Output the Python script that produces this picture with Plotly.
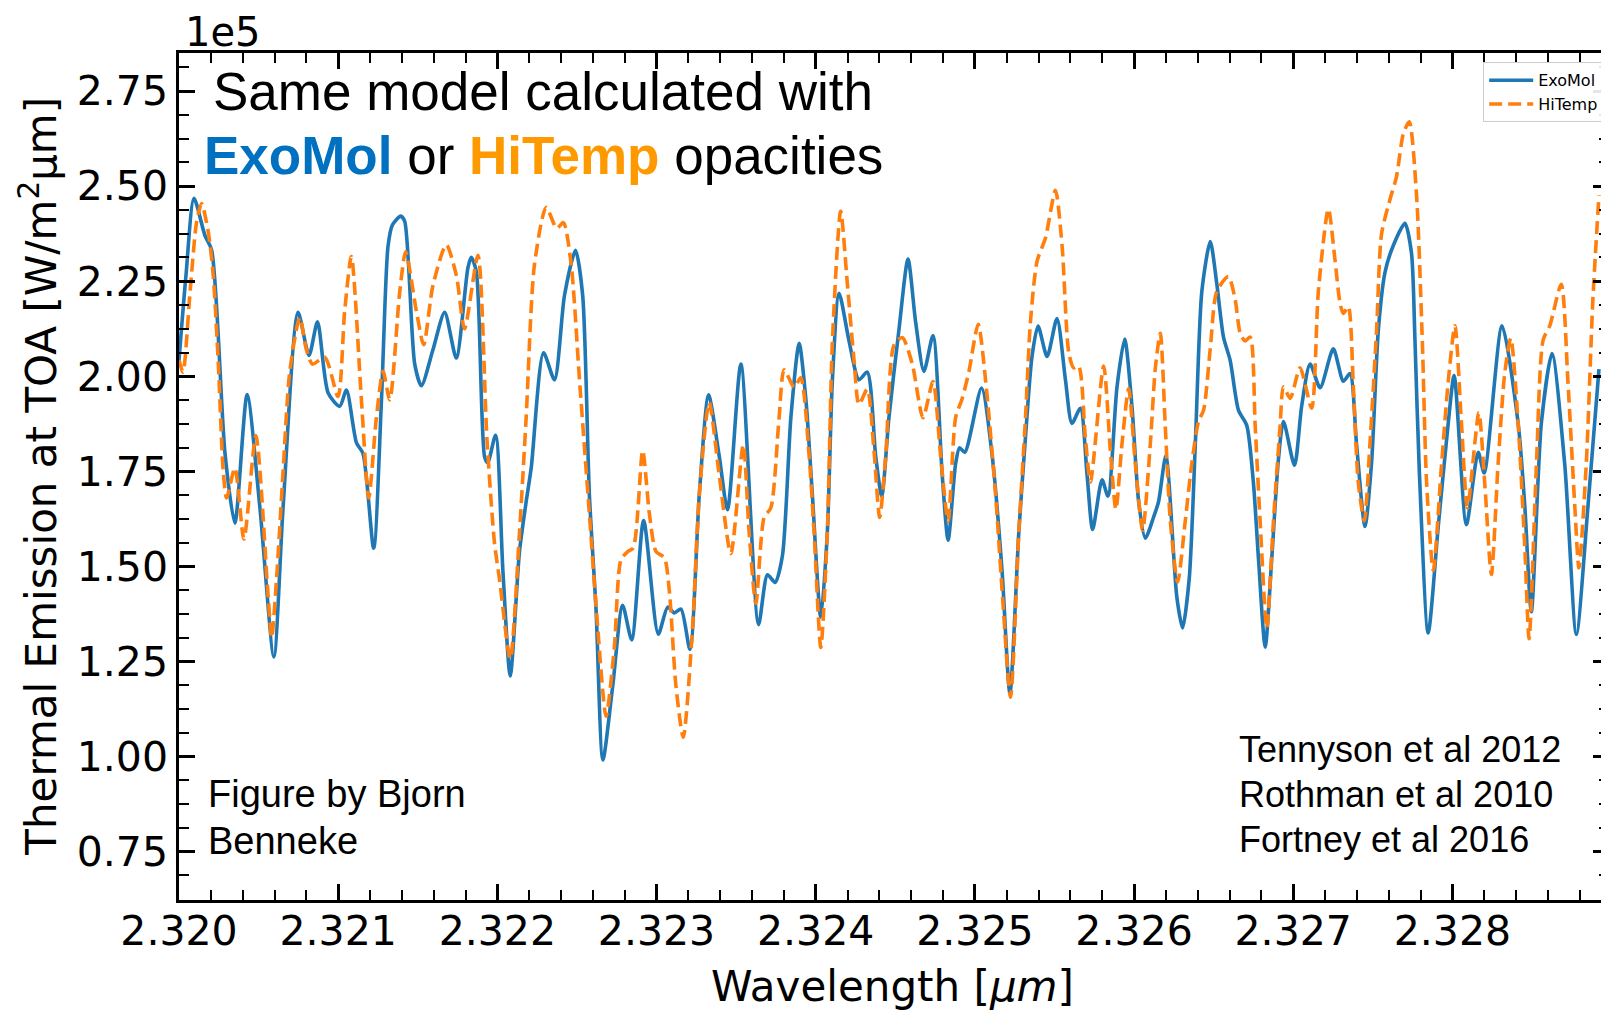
import plotly.graph_objects as go

# Wavelength [um] and thermal emission (units of 1e5 W/m^2/um)
wl_exomol = [2.32000, 2.320044, 2.320094, 2.320163, 2.320205, 2.320289, 2.320351, 2.320428, 2.320508, 2.320596,
             2.320654, 2.320748, 2.320817, 2.320870, 2.320937, 2.321010, 2.321052, 2.321115, 2.321156, 2.321223,
             2.321272, 2.321313, 2.321341, 2.321393, 2.321418, 2.321481, 2.321523, 2.321595, 2.321669, 2.321742,
             2.321815, 2.321836, 2.321868, 2.321920, 2.321940, 2.321989, 2.322035, 2.322081, 2.322139, 2.322181,
             2.322213, 2.322290, 2.322359, 2.322422, 2.322491, 2.322536, 2.322578, 2.322620, 2.322663, 2.322725,
             2.322787, 2.322844, 2.322919, 2.323011, 2.323070, 2.323112, 2.323154, 2.323210, 2.323269, 2.323327,
             2.323394, 2.323446, 2.323530, 2.323641, 2.323697, 2.323745, 2.323791, 2.323844, 2.323896, 2.323938,
             2.323979, 2.324032, 2.324073, 2.324105, 2.324147, 2.324210, 2.324272, 2.324324, 2.324377, 2.324415,
             2.324460, 2.324523, 2.324580, 2.324628, 2.324680, 2.324737, 2.324795, 2.324832, 2.324879, 2.324904,
             2.324937, 2.325042, 2.325109, 2.325171, 2.325220, 2.325276, 2.325318, 2.325359, 2.325397, 2.325454,
             2.325516, 2.325569, 2.325610, 2.325663, 2.325705, 2.325740, 2.325799, 2.325836, 2.325893, 2.325941,
             2.325987, 2.326029, 2.326071, 2.326123, 2.326154, 2.326200, 2.326269, 2.326305, 2.326347, 2.326385,
             2.326426, 2.326479, 2.326520, 2.326562, 2.326604, 2.326656, 2.326708, 2.326750, 2.326782, 2.326824,
             2.326865, 2.326907, 2.326939, 2.327008, 2.327053, 2.327106, 2.327169, 2.327252, 2.327315, 2.327357,
             2.327398, 2.327451, 2.327492, 2.327535, 2.327577, 2.327629, 2.327702, 2.327743, 2.327765, 2.327792,
             2.327848, 2.327911, 2.327974, 2.328011, 2.328088, 2.328162, 2.328200, 2.328312, 2.328413, 2.328455,
             2.328496, 2.328559, 2.328626, 2.328706, 2.328779, 2.328852, 2.328921]
exomol = [2.043, 2.266, 2.468, 2.370, 2.332, 1.797, 1.614, 1.952, 1.656, 1.262,
          1.656, 2.168, 2.055, 2.143, 1.956, 1.921, 1.964, 1.825, 1.797, 1.548,
          1.938, 2.341, 2.398, 2.421, 2.407, 2.032, 1.975, 2.069, 2.168, 2.048,
          2.285, 2.313, 2.276, 1.788, 1.773, 1.845, 1.488, 1.212, 1.539, 1.670,
          1.760, 2.062, 1.991, 2.213, 2.331, 2.213, 1.690, 1.388, 0.991, 1.186,
          1.398, 1.307, 1.621, 1.322, 1.393, 1.378, 1.388, 1.282, 1.690, 1.951,
          1.790, 1.649, 2.032, 1.347, 1.478, 1.458, 1.528, 1.891, 2.087, 1.941,
          1.690, 1.367, 1.589, 1.991, 2.218, 2.092, 1.991, 2.011, 1.790, 1.685,
          1.891, 2.122, 2.308, 2.142, 2.013, 2.107, 1.740, 1.569, 1.770, 1.812,
          1.800, 1.969, 1.790, 1.488, 1.166, 1.589, 1.840, 2.052, 2.132, 2.052,
          2.152, 1.991, 1.876, 1.916, 1.740, 1.597, 1.728, 1.685, 1.972, 2.098,
          1.921, 1.670, 1.574, 1.630, 1.670, 1.791, 1.419, 1.338, 1.469, 1.821,
          2.223, 2.354, 2.243, 2.103, 2.042, 1.911, 1.871, 1.720, 1.519, 1.288,
          1.519, 1.781, 1.881, 1.766, 1.921, 2.032, 1.970, 2.072, 1.987, 2.007,
          1.821, 1.605, 1.771, 2.123, 2.274, 2.344, 2.402, 2.324, 2.095, 1.754,
          1.325, 1.604, 1.877, 2.002, 1.610, 1.800, 1.746, 2.133, 1.877, 1.659,
          1.381, 1.877, 2.060, 1.768, 1.321, 1.659, 2.019]

wl_hitemp = [2.32000, 2.320025, 2.320069, 2.320111, 2.320142, 2.320184, 2.320215, 2.320247, 2.320278, 2.320299,
             2.320351, 2.320408, 2.320483, 2.320560, 2.320582, 2.320613, 2.320654, 2.320696, 2.320759, 2.320801,
             2.320839, 2.320916, 2.320999, 2.321041, 2.321083, 2.321146, 2.321192, 2.321240, 2.321282, 2.321324,
             2.321386, 2.321424, 2.321491, 2.321537, 2.321595, 2.321679, 2.321742, 2.321794, 2.321878, 2.321935,
             2.321982, 2.322014, 2.322081, 2.322139, 2.322181, 2.322233, 2.322307, 2.322373, 2.322415, 2.322464,
             2.322516, 2.322578, 2.322631, 2.322683, 2.322735, 2.322777, 2.322819, 2.322854, 2.322913, 2.322955,
             2.322997, 2.323049, 2.323080, 2.323122, 2.323168, 2.323226, 2.323269, 2.323331, 2.323394, 2.323467,
             2.323545, 2.323582, 2.323624, 2.323676, 2.323718, 2.323770, 2.323802, 2.323865, 2.323906, 2.323959,
             2.323990, 2.324032, 2.324073, 2.324105, 2.324157, 2.324199, 2.324241, 2.324272, 2.324324, 2.324366,
             2.324402, 2.324440, 2.324492, 2.324544, 2.324607, 2.324674, 2.324737, 2.324785, 2.324832, 2.324879,
             2.324920, 2.324962, 2.325021, 2.325067, 2.325130, 2.325171, 2.325224, 2.325276, 2.325318, 2.325349,
             2.325391, 2.325444, 2.325506, 2.325548, 2.325590, 2.325621, 2.325652, 2.325694, 2.325726, 2.325809,
             2.325851, 2.325886, 2.325924, 2.325966, 2.326008, 2.326054, 2.326102, 2.326134, 2.326165, 2.326196,
             2.326228, 2.326274, 2.326322, 2.326363, 2.326405, 2.326437, 2.326479, 2.326520, 2.326593, 2.326635,
             2.326667, 2.326698, 2.326730, 2.326761, 2.326792, 2.326834, 2.326876, 2.326918, 2.326939, 2.326981,
             2.327043, 2.327116, 2.327158, 2.327221, 2.327263, 2.327294, 2.327315, 2.327346, 2.327378, 2.327409,
             2.327447, 2.327482, 2.327524, 2.327555, 2.327608, 2.327649, 2.327691, 2.327729, 2.327775, 2.327811,
             2.327838, 2.327880, 2.327932, 2.327974, 2.328016, 2.328057, 2.328095, 2.328166, 2.328204, 2.328245,
             2.328287, 2.328329, 2.328367, 2.328413, 2.328455, 2.328482, 2.328528, 2.328570, 2.328612, 2.328684,
             2.328726, 2.328769, 2.328795, 2.328841, 2.328883, 2.328921]
hitemp = [2.043, 2.011, 2.219, 2.407, 2.454, 2.379, 2.266, 2.032, 1.750, 1.680,
          1.759, 1.572, 1.844, 1.421, 1.313, 1.468, 1.750, 2.013, 2.154, 2.069,
          2.032, 2.050, 1.947, 2.172, 2.315, 1.938, 1.680, 1.891, 2.013, 1.938,
          2.219, 2.327, 2.172, 2.083, 2.238, 2.346, 2.266, 2.125, 2.318, 1.833,
          1.562, 1.465, 1.257, 1.589, 1.891, 2.293, 2.444, 2.389, 2.404, 2.293,
          1.991, 1.639, 1.337, 1.106, 1.287, 1.518, 1.539, 1.549, 1.805, 1.639,
          1.539, 1.523, 1.438, 1.186, 1.051, 1.337, 1.690, 1.931, 1.740, 1.534,
          1.820, 1.589, 1.403, 1.629, 1.654, 1.891, 2.017, 1.971, 1.996, 1.790,
          1.589, 1.287, 1.589, 2.092, 2.434, 2.243, 2.042, 1.926, 1.966, 1.806,
          1.629, 1.790, 2.082, 2.102, 2.032, 1.891, 1.986, 1.790, 1.619, 1.891,
          1.941, 2.011, 2.137, 1.991, 1.690, 1.438, 1.156, 1.589, 1.891, 2.142,
          2.303, 2.364, 2.489, 2.343, 2.062, 2.022, 2.027, 1.840, 1.722, 2.027,
          1.806, 1.650, 1.821, 1.967, 1.771, 1.595, 1.821, 2.022, 2.113, 1.871,
          1.620, 1.459, 1.620, 1.771, 1.881, 1.911, 2.072, 2.223, 2.262, 2.203,
          2.113, 2.093, 2.103, 1.871, 1.620, 1.338, 1.620, 1.871, 1.972, 1.942,
          2.022, 1.916, 2.223, 2.440, 2.304, 2.193, 2.165, 2.183, 1.972, 1.720,
          1.620, 1.821, 2.123, 2.374, 2.465, 2.525, 2.636, 2.669, 2.475, 2.095,
          1.720, 1.490, 1.768, 1.986, 2.133, 1.877, 1.654, 1.904, 1.714, 1.479,
          1.768, 2.008, 2.100, 1.877, 1.550, 1.310, 1.768, 2.095, 2.133, 2.242,
          1.986, 1.659, 1.496, 1.768, 2.204, 2.476]

x_ticks = [2.320, 2.321, 2.322, 2.323, 2.324, 2.325, 2.326, 2.327, 2.328]
x_ticklabels = ["2.320", "2.321", "2.322", "2.323", "2.324", "2.325", "2.326", "2.327", "2.328"]
y_ticks = [0.75, 1.00, 1.25, 1.50, 1.75, 2.00, 2.25, 2.50, 2.75]
y_ticklabels = ["0.75", "1.00", "1.25", "1.50", "1.75", "2.00", "2.25", "2.50", "2.75"]

BLUE = "#1f77b4"
ORANGE = "#ff7f0e"
TICKFONT = dict(family="DejaVu Sans", size=41, color="black")
ARIAL = "Liberation Sans, Arial"

fig = go.Figure()
fig.add_trace(go.Scatter(x=wl_exomol, y=exomol, mode="lines", name="ExoMol",
                         line=dict(color=BLUE, width=3.6, shape="spline", smoothing=0.7)))
fig.add_trace(go.Scatter(x=wl_hitemp, y=hitemp, mode="lines", name="HiTemp",
                         line=dict(color=ORANGE, width=3.6, dash="13px,6px", shape="spline", smoothing=0.7)))

axis_common = dict(showline=True, linecolor="black", linewidth=2.5, mirror="ticks",
                   ticks="inside", ticklen=16, tickwidth=2.5, tickcolor="black",
                   showgrid=False, zeroline=False, tickfont=TICKFONT)

fig.update_xaxes(range=[2.320, 2.328984], tickvals=x_ticks, ticktext=x_ticklabels,
                 ticklabelstandoff=-7,
                 minor=dict(dtick=0.0002, tick0=2.320, ticks="inside", ticklen=10,
                            tickwidth=2, tickcolor="black", showgrid=False),
                 **axis_common)
fig.update_yaxes(range=[0.623, 2.850], tickvals=y_ticks, ticktext=y_ticklabels,
                 minor=dict(dtick=0.0625, tick0=0, ticks="inside", ticklen=10,
                            tickwidth=2, tickcolor="black", showgrid=False),
                 **axis_common)

# plot area: x from 179 px to 1611 px (right spine falls just outside the 1601 px window)
PW = 1432.0
def px(x):
    return (x - 179) / PW

annotations = [
    dict(text="1e5", x=px(183), y=1.025, xref="paper", yref="paper", xanchor="left", yanchor="middle",
         showarrow=False, font=dict(family="DejaVu Sans", size=40, color="black")),
    dict(text="Same model calculated with", x=px(211), y=0.954, xref="paper", yref="paper",
         xanchor="left", yanchor="middle", showarrow=False, font=dict(family=ARIAL, size=53, color="black")),
    dict(text="<b><span style='color:#0070C0'>ExoMol</span></b> or <b><span style='color:#FF9900'>HiTemp</span></b> opacities",
         x=px(202), y=0.8787, xref="paper", yref="paper", xanchor="left", yanchor="middle",
         showarrow=False, font=dict(family=ARIAL, size=53, color="black")),
    dict(text="Figure by Bjorn", x=px(206), y=0.125, xref="paper", yref="paper", xanchor="left",
         yanchor="middle", showarrow=False, font=dict(family=ARIAL, size=38, color="black")),
    dict(text="Benneke", x=px(206), y=0.0697, xref="paper", yref="paper", xanchor="left",
         yanchor="middle", showarrow=False, font=dict(family=ARIAL, size=38, color="black")),
    dict(text="Tennyson et al 2012", x=px(1238), y=0.178, xref="paper", yref="paper", xanchor="left",
         yanchor="middle", showarrow=False, font=dict(family=ARIAL, size=36, color="black")),
    dict(text="Rothman et al 2010", x=px(1238), y=0.125, xref="paper", yref="paper", xanchor="left",
         yanchor="middle", showarrow=False, font=dict(family=ARIAL, size=36, color="black")),
    dict(text="Fortney et al 2016", x=px(1238), y=0.072, xref="paper", yref="paper", xanchor="left",
         yanchor="middle", showarrow=False, font=dict(family=ARIAL, size=36, color="black")),
    dict(text="Wavelength [<i>μm</i>]", x=px(893), y=-0.1027, xref="paper", yref="paper", xanchor="center",
         yanchor="middle", showarrow=False, font=dict(family="DejaVu Sans", size=42, color="black")),
    dict(text="Thermal Emission at TOA [W/m<sup>2</sup>μm]", x=px(39), y=0.5, xref="paper", yref="paper",
         xanchor="center", yanchor="middle", textangle=-90, showarrow=False,
         font=dict(family="DejaVu Sans", size=42, color="black")),
]

fig.update_layout(
    width=1612, height=1012,
    margin=dict(l=179, r=0, t=53, b=112, pad=0),
    paper_bgcolor="white", plot_bgcolor="white",
    annotations=annotations,
    legend=dict(x=px(1485), y=0.989, xanchor="left", yanchor="top",
                bgcolor="rgba(255,255,255,0.9)", bordercolor="#cccccc", borderwidth=1,
                font=dict(family="DejaVu Sans", size=16, color="black"),
                tracegroupgap=2, itemwidth=44),
    showlegend=True,
)

fig.write_html("out.html", config={"displayModeBar": False},
               post_script="document.body.style.margin='0';document.body.style.overflow='hidden';")
